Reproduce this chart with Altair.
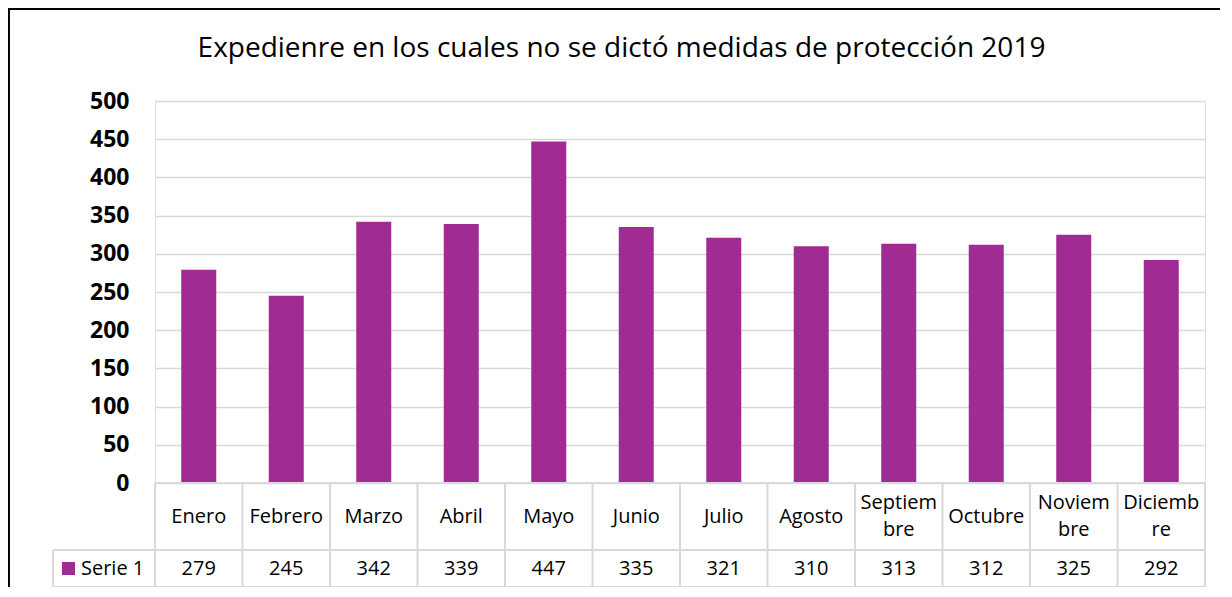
import altair as alt
import pandas as pd

months = ["Enero", "Febrero", "Marzo", "Abril", "Mayo", "Junio", "Julio",
          "Agosto", "Septiembre", "Octubre", "Noviembre", "Diciembre"]
month_labels = ["Enero", "Febrero", "Marzo", "Abril", "Mayo", "Junio", "Julio",
                "Agosto", "Septiem\nbre", "Octubre", "Noviem\nbre", "Diciemb\nre"]
values = [279, 245, 342, 339, 447, 335, 321, 310, 313, 312, 325, 292]
y_ticks = [0, 50, 100, 150, 200, 250, 300, 350, 400, 450, 500]
series_name = "Serie 1"
title_text = "Expedienre en los cuales no se dictó medidas de protección 2019"

BAR = "#A02B93"
GRID = "#D9D9D9"
FONT = "Open Sans"

W, H = 1050, 382
TABLE_H = 104
ROW1 = 67
LEG_W = 102
LH = 27
step = W / len(months)

df = pd.DataFrame({"month": months, "label": month_labels, "value": values})
df["lines"] = df["label"].str.count("\n") + 1

xenc = alt.X("month:N", sort=months, axis=None,
             scale=alt.Scale(paddingInner=0.6, paddingOuter=0.3))

bars = alt.Chart(df).mark_bar(color=BAR).encode(
    x=xenc,
    y=alt.Y("value:Q", scale=alt.Scale(domain=[0, 500], nice=False),
            axis=alt.Axis(values=y_ticks, title=None, domain=False, ticks=False,
                          labelFont=FONT, labelFontSize=23, labelFontWeight="bold",
                          labelColor="#000000", labelPadding=26,
                          gridColor=GRID, gridWidth=1.5)),
)

cat_text1 = alt.Chart(df).transform_filter("datum.lines == 1").mark_text(
    font=FONT, fontSize=20, color="#000000", baseline="middle").encode(
    x=xenc, y=alt.value(H + ROW1 / 2), text="label:N")

cat_text2 = alt.Chart(df).transform_filter("datum.lines == 2").mark_text(
    font=FONT, fontSize=20, color="#000000", lineBreak="\n", lineHeight=LH,
    baseline="middle").encode(
    x=xenc, y=alt.value(H + ROW1 / 2 - LH / 2), text="label:N")

val_text = alt.Chart(df).mark_text(font=FONT, fontSize=20, color="#000000",
                                   baseline="middle").encode(
    x=xenc, y=alt.value(H + ROW1 + (TABLE_H - ROW1) / 2), text="value:Q")

# table grid segments (layout, in pixels)
segs = []
for i in range(len(months) + 1):
    segs.append(dict(x1=i * step, x2=i * step, y1=H, y2=H + TABLE_H))
segs.append(dict(x1=-LEG_W, x2=-LEG_W, y1=H + ROW1, y2=H + TABLE_H))
segs.append(dict(x1=0, x2=W, y1=H, y2=H))
segs.append(dict(x1=-LEG_W, x2=W, y1=H + ROW1, y2=H + ROW1))
segs.append(dict(x1=-LEG_W, x2=W, y1=H + TABLE_H, y2=H + TABLE_H))
seg_df = pd.DataFrame(segs)

table_lines = alt.Chart(seg_df).mark_rule(color=GRID, strokeWidth=2).encode(
    x=alt.X("x1:Q", scale=None), x2="x2:Q",
    y=alt.Y("y1:Q", scale=None), y2="y2:Q")

legend_sq = alt.Chart(pd.DataFrame({"s": [series_name]})).mark_square(
    color=BAR, opacity=1, size=170).encode(
    x=alt.value(-86.5), y=alt.value(H + ROW1 + (TABLE_H - ROW1) / 2))

legend_txt = alt.Chart(pd.DataFrame({"s": [series_name]})).mark_text(
    font=FONT, fontSize=20, color="#000000", align="left", baseline="middle").encode(
    x=alt.value(-74), y=alt.value(H + ROW1 + (TABLE_H - ROW1) / 2), text="s:N")

title = alt.Chart(pd.DataFrame({"t": [title_text]})).mark_text(
    font=FONT, fontSize=28, color="#000000", align="center", baseline="alphabetic").encode(
    x=alt.value(466.5), y=alt.value(-44), text="t:N")

border_left = alt.Chart(pd.DataFrame({"a": [0]})).mark_rule(color="#000000", strokeWidth=2.5).encode(
    x=alt.value(-146.3), y=alt.value(-93), y2=alt.value(520))
border_top = alt.Chart(pd.DataFrame({"a": [0]})).mark_rule(color="#000000", strokeWidth=2.5).encode(
    y=alt.value(-92.3), x=alt.value(-147.5), x2=alt.value(1100))

chart = alt.layer(bars, table_lines, cat_text1, cat_text2, val_text, legend_sq,
                  legend_txt, title, border_left, border_top).properties(
    width=W, height=H,
    autosize=alt.AutoSizeParams(type="none"),
    padding={"left": 147, "top": 93, "right": 15, "bottom": 104},
).configure_view(stroke=None).configure(background="#ffffff")

chart.save("out.html", embed_options={"renderer": "svg", "actions": False})
